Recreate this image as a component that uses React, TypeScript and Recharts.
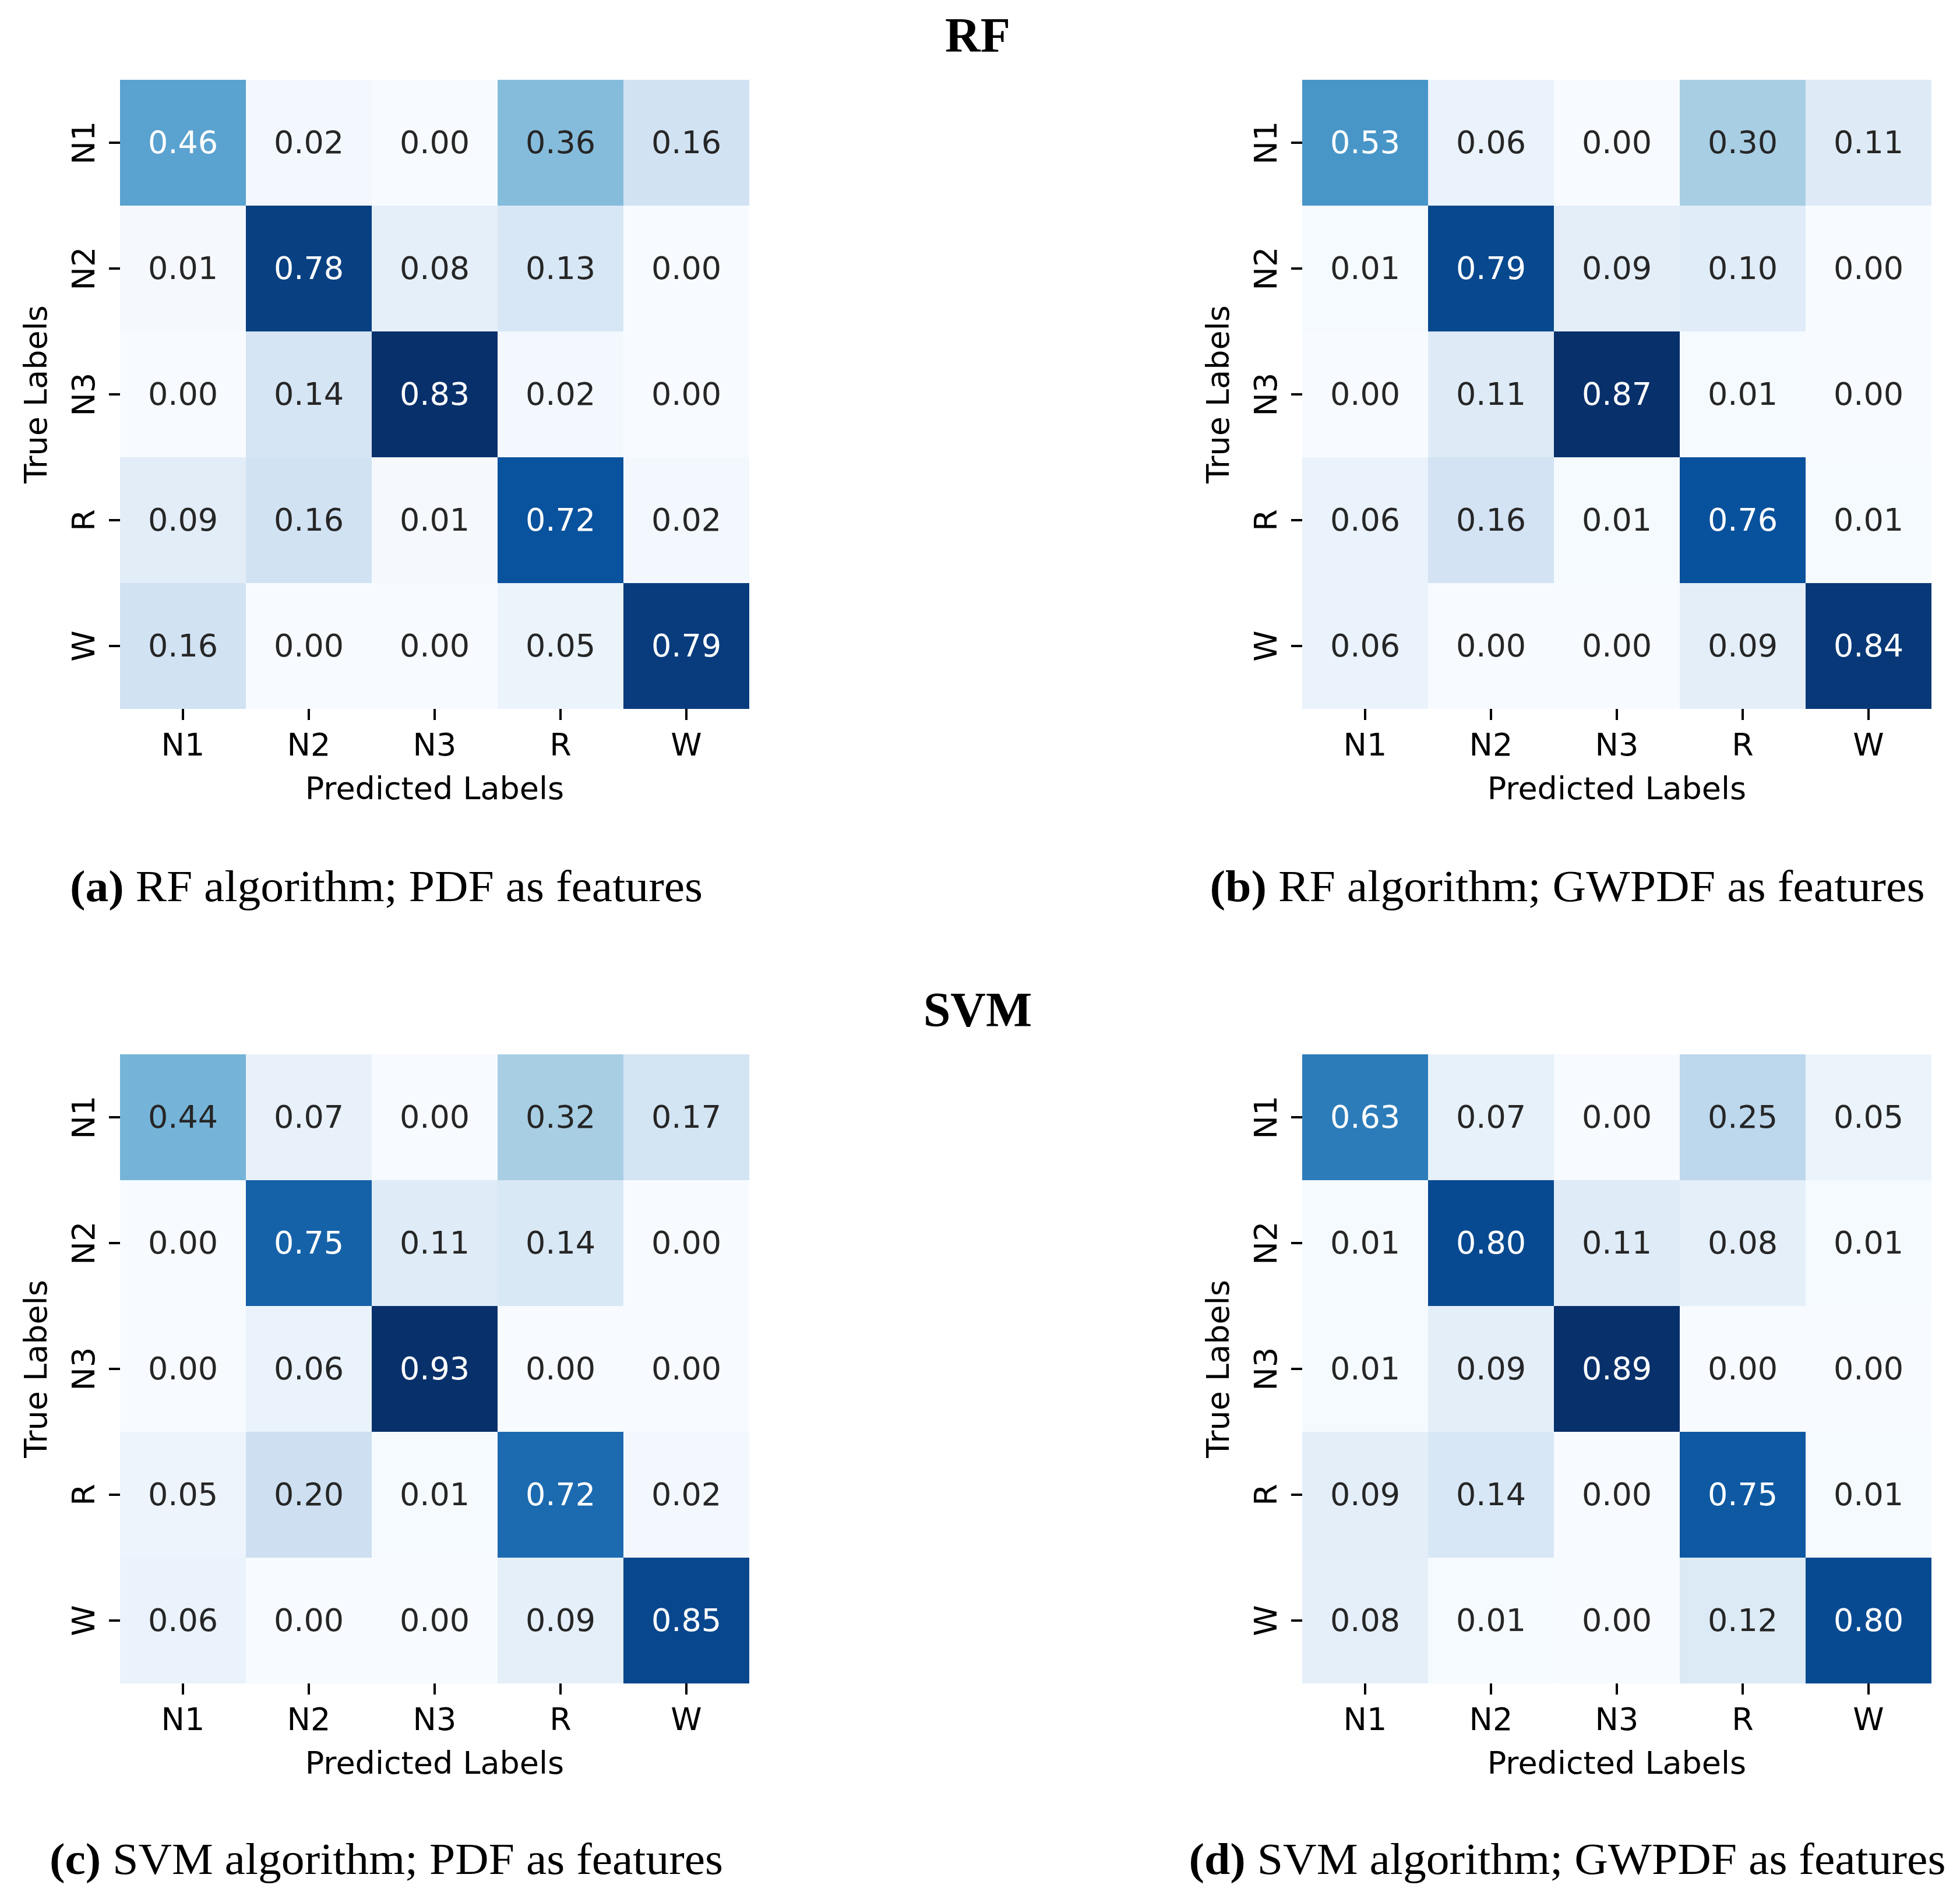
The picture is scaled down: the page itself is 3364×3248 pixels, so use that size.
import React from 'react';
import { BarChart, Bar, Cell, XAxis, YAxis, LabelList } from 'recharts';

// class order, used for both axes
const CLASSES = ['N1', 'N2', 'N3', 'R', 'W'];

// row = true label, column = predicted label
const RF_PDF = [
  [0.46, 0.02, 0.0, 0.36, 0.16],
  [0.01, 0.78, 0.08, 0.13, 0.0],
  [0.0, 0.14, 0.83, 0.02, 0.0],
  [0.09, 0.16, 0.01, 0.72, 0.02],
  [0.16, 0.0, 0.0, 0.05, 0.79],
];
const RF_GWPDF = [
  [0.53, 0.06, 0.0, 0.3, 0.11],
  [0.01, 0.79, 0.09, 0.1, 0.0],
  [0.0, 0.11, 0.87, 0.01, 0.0],
  [0.06, 0.16, 0.01, 0.76, 0.01],
  [0.06, 0.0, 0.0, 0.09, 0.84],
];
const SVM_PDF = [
  [0.44, 0.07, 0.0, 0.32, 0.17],
  [0.0, 0.75, 0.11, 0.14, 0.0],
  [0.0, 0.06, 0.93, 0.0, 0.0],
  [0.05, 0.2, 0.01, 0.72, 0.02],
  [0.06, 0.0, 0.0, 0.09, 0.85],
];
const SVM_GWPDF = [
  [0.63, 0.07, 0.0, 0.25, 0.05],
  [0.01, 0.8, 0.11, 0.08, 0.01],
  [0.01, 0.09, 0.89, 0.0, 0.0],
  [0.09, 0.14, 0.0, 0.75, 0.01],
  [0.08, 0.01, 0.0, 0.12, 0.8],
];

const GROUP_TITLES = ['RF', 'SVM'];
const CAPTIONS = [
  ['(a)', ' RF algorithm; PDF as features'],
  ['(b)', ' RF algorithm; GWPDF as features'],
  ['(c)', ' SVM algorithm; PDF as features'],
  ['(d)', ' SVM algorithm; GWPDF as features'],
];
const CAPTION_WIDTHS = [1086, 1227, 1156, 1299];

// matplotlib "Blues"
const BLUES = ['#f7fbff', '#deebf7', '#c6dbef', '#9ecae1', '#6baed6', '#4292c6', '#2171b5', '#08519c', '#08306b'];

const SANS = 'DejaVu Sans';
const SERIF = '"Liberation Serif", serif';
const FS = 54;

const hexRgb = (h: string) => [1, 3, 5].map((i) => parseInt(h.slice(i, i + 2), 16));

function blues(t: number): number[] {
  const q = Math.min(255, Math.max(0, Math.floor(t * 256))) / 255;
  const p = q * (BLUES.length - 1);
  const i = Math.min(BLUES.length - 2, Math.floor(p));
  const f = p - i;
  const a = hexRgb(BLUES[i]);
  const b = hexRgb(BLUES[i + 1]);
  return a.map((v, k) => Math.round(v + (b[k] - v) * f));
}

const toCss = (c: number[]) => `rgb(${c[0]},${c[1]},${c[2]})`;

// same rule seaborn uses to pick annotation colour
function luminance(c: number[]) {
  const lin = c.map((v) => {
    const s = v / 255;
    return s <= 0.03928 ? s / 12.92 : Math.pow((s + 0.055) / 1.055, 2.4);
  });
  return 0.2126 * lin[0] + 0.7152 * lin[1] + 0.0722 * lin[2];
}

const XTick = (props: any) => {
  const { x, y, payload } = props;
  return (
    <text x={x} y={y + 61} textAnchor="middle" fontFamily={SANS} fontSize={FS} fill="#000">
      {CLASSES[Math.floor(payload.value)]}
    </text>
  );
};

const YTick = (props: any) => {
  const { x, y, payload } = props;
  const bx = x - 25;
  return (
    <text x={bx} y={y} transform={`rotate(-90, ${bx}, ${y})`} textAnchor="middle" fontFamily={SANS} fontSize={FS} fill="#000">
      {payload.value}
    </text>
  );
};

const Heatmap: React.FC<{ matrix: number[][]; left: number; top: number }> = ({ matrix, left, top }) => {
  const vmin = Math.min(...matrix.flat());
  const vmax = Math.max(...matrix.flat());
  const rows = CLASSES.map((lab, i) => {
    const r: any = { label: lab };
    CLASSES.forEach((_, j) => {
      r['c' + j] = 1;
      r['m' + j] = matrix[i][j];
    });
    return r;
  });
  const ticks = CLASSES.map((_, i) => i + 0.5);

  return (
    <div style={{ position: 'absolute', left, top }}>
      <BarChart
        width={1300}
        height={1450}
        data={rows}
        layout="vertical"
        barCategoryGap={0}
        barGap={0}
        margin={{ top: 137, right: 14, bottom: 33, left: 56 }}
      >
        <XAxis
          type="number"
          domain={[0, CLASSES.length]}
          ticks={ticks}
          interval={0}
          height={200}
          axisLine={false}
          tickSize={19}
          tickMargin={0}
          tickLine={{ stroke: '#000', strokeWidth: 4 }}
          tick={<XTick />}
          label={(p: any) => {
            const vb = p.viewBox;
            return (
              <text x={vb.x + vb.width / 2} y={vb.y + 155} textAnchor="middle" fontFamily={SANS} fontSize={FS} fill="#000">
                Predicted Labels
              </text>
            );
          }}
        />
        <YAxis
          type="category"
          dataKey="label"
          width={150}
          axisLine={false}
          tickSize={19}
          tickMargin={0}
          tickLine={{ stroke: '#000', strokeWidth: 4 }}
          tick={<YTick />}
          label={(p: any) => {
            const vb = p.viewBox;
            const lx = vb.x + vb.width - 126;
            const ly = vb.y + vb.height / 2;
            return (
              <text x={lx} y={ly} transform={`rotate(-90, ${lx}, ${ly})`} textAnchor="middle" fontFamily={SANS} fontSize={FS} fill="#000">
                True Labels
              </text>
            );
          }}
        />
        {CLASSES.map((_, j) => (
          <Bar key={j} dataKey={'c' + j} stackId="cm" isAnimationActive={false} stroke="none">
            {rows.map((r, i) => (
              <Cell key={i} fill={toCss(blues((r['m' + j] - vmin) / (vmax - vmin)))} />
            ))}
            <LabelList
              dataKey={'m' + j}
              content={(p: any) => {
                const v = Number(p.value);
                const c = blues((v - vmin) / (vmax - vmin));
                return (
                  <text
                    x={p.x + p.width / 2}
                    y={p.y + p.height / 2 + 18}
                    textAnchor="middle"
                    fontFamily={SANS}
                    fontSize={FS}
                    fill={luminance(c) > 0.408 ? '#262626' : '#ffffff'}
                  >
                    {v.toFixed(2)}
                  </text>
                );
              }}
            />
          </Bar>
        ))}
      </BarChart>
    </div>
  );
};

const COL_X = [0, 2029];
const ROW_Y = [0, 1673];
const CAPTION_X = [663, 2690];

export default function App() {
  const mats = [RF_PDF, RF_GWPDF, SVM_PDF, SVM_GWPDF];
  return (
    <div style={{ position: 'absolute', left: 0, top: 0, width: 3364, height: 3248, background: '#fff', overflow: 'hidden' }}>
      {mats.map((m, k) => (
        <Heatmap key={k} matrix={m} left={COL_X[k % 2]} top={ROW_Y[Math.floor(k / 2)]} />
      ))}
      <svg width={3364} height={3248} style={{ position: 'absolute', left: 0, top: 0, pointerEvents: 'none' }}>
        {GROUP_TITLES.map((t, r) => (
          <text key={t} x={1678} y={89 + ROW_Y[r]} textAnchor="middle" fontFamily={SERIF} fontWeight="bold" fontSize={84} fill="#000">
            {t}
          </text>
        ))}
        {CAPTIONS.map(([tag, rest], k) => (
          <text
            key={k}
            x={CAPTION_X[k % 2]}
            y={1547 + ROW_Y[Math.floor(k / 2)] - (k >= 2 ? 3 : 0)}
            textAnchor="middle"
            fontFamily={SERIF}
            fontSize={76}
            fill="#000"
            textLength={CAPTION_WIDTHS[k]}
            lengthAdjust="spacingAndGlyphs"
          >
            <tspan fontWeight="bold">{tag}</tspan>
            <tspan>{rest}</tspan>
          </text>
        ))}
      </svg>
    </div>
  );
}
